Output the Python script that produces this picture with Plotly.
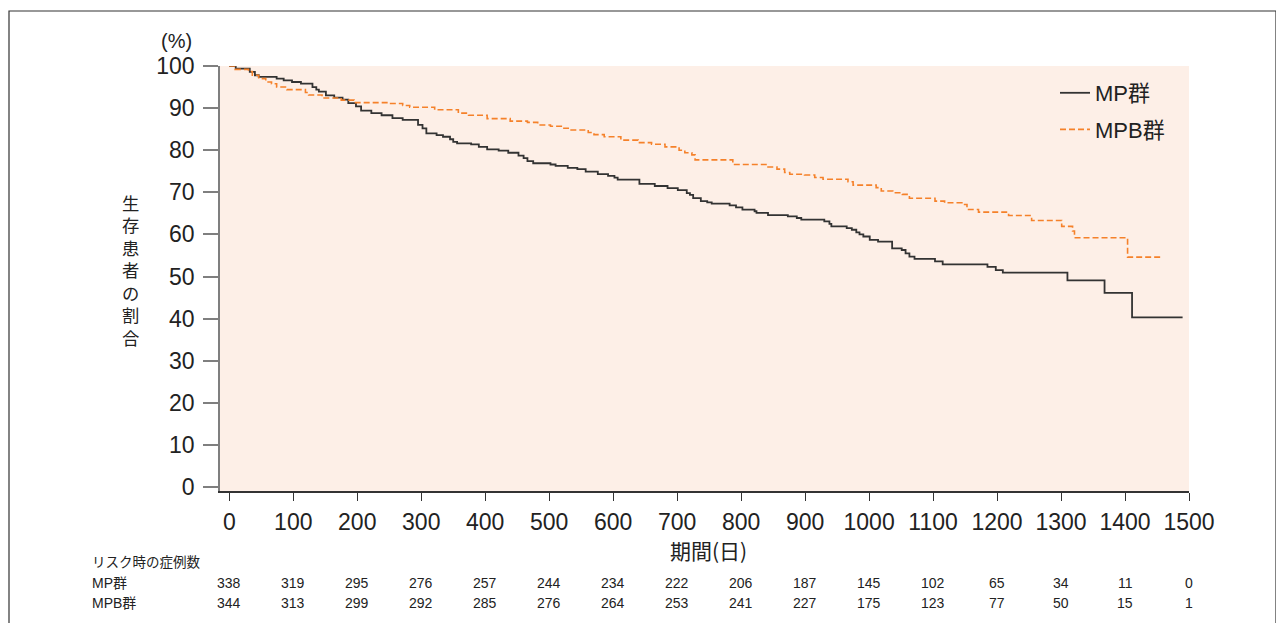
import plotly.graph_objects as go

# ---- data ----
mp_days = [0, 10, 32, 40, 46, 74, 85, 98, 112, 130, 136, 140, 151, 164, 177, 186, 198, 206, 222, 238,
           255, 271, 295, 302, 308, 324, 334, 345, 350, 356, 378, 390, 403, 421, 436, 452, 460, 466, 475,
           502, 510, 529, 544, 557, 576, 592, 602, 607, 641, 665, 685, 701, 715, 720, 725, 737, 747, 754,
           782, 792, 802, 821, 824, 842, 873, 887, 894, 930, 938, 941, 965, 973, 980, 985, 991, 1001,
           1014, 1036, 1051, 1057, 1063, 1071, 1103, 1115, 1185, 1198, 1209, 1310, 1368, 1411, 1490]
mp_surv = [100, 99.4, 98.6, 97.8, 97.4, 97.0, 96.6, 96.2, 95.8, 95.0, 94.4, 93.9, 93.0, 92.5, 92.0, 91.2,
           90.4, 89.4, 88.8, 88.3, 87.6, 87.2, 86.0, 85.2, 84.0, 83.6, 83.2, 82.6, 82.0, 81.6, 81.4, 80.8,
           80.2, 79.9, 79.4, 78.7, 78.1, 77.4, 76.9, 76.6, 76.3, 75.8, 75.5, 74.9, 74.3, 73.9, 73.5, 73.0,
           72.0, 71.5, 71.0, 70.5, 69.8, 69.4, 68.6, 67.9, 67.6, 67.3, 66.9, 66.4, 65.9, 65.5, 65.1, 64.6,
           64.3, 63.9, 63.5, 63.1, 62.5, 61.9, 61.5, 61.1, 60.5, 60.0, 59.5, 58.7, 58.3, 56.7, 56.3, 55.5,
           54.7, 54.2, 53.6, 52.9, 52.3, 51.5, 50.9, 49.1, 46.1, 40.3, 40.3]

mpb_days = [0, 9, 30, 36, 46, 57, 66, 74, 90, 119, 124, 145, 175, 195, 250, 271, 282, 321, 358, 374, 403,
            439, 466, 482, 502, 523, 531, 561, 570, 586, 612, 639, 660, 681, 703, 712, 723, 728, 787, 842,
            856, 868, 876, 899, 915, 928, 967, 975, 1011, 1019, 1037, 1052, 1063, 1103, 1118, 1145, 1153,
            1171, 1218, 1254, 1301, 1318, 1321, 1404, 1457]
mpb_surv = [100, 99.2, 98.7, 97.8, 97.0, 96.2, 95.8, 95.0, 94.4, 93.7, 93.1, 92.4, 91.9, 91.3, 91.1, 90.6,
            90.2, 89.6, 88.8, 88.3, 87.5, 86.9, 86.6, 86.0, 85.7, 85.2, 84.8, 84.2, 83.7, 83.2, 82.4, 81.8,
            81.4, 80.8, 80.0, 79.4, 78.9, 77.7, 76.6, 76.0, 75.5, 74.7, 74.3, 74.1, 73.5, 73.1, 72.5, 71.7,
            71.1, 70.3, 69.9, 69.5, 68.6, 67.9, 67.5, 67.1, 65.9, 65.3, 64.5, 63.3, 61.9, 60.8, 59.2, 54.6,
            54.6]

x_ticks = list(range(0, 1501, 100))
y_ticks = list(range(0, 101, 10))
risk_mp = [338, 319, 295, 276, 257, 244, 234, 222, 206, 187, 145, 102, 65, 34, 11, 0]
risk_mpb = [344, 313, 299, 292, 285, 276, 264, 253, 241, 227, 175, 123, 77, 50, 15, 1]

series_names = ["MP群", "MPB群"]
risk_title = "リスク時の症例数"
x_title = "期間(日)"
y_title = "生存患者の割合"
y_unit = "(%)"

# ---- layout constants (page pixels; the page body adds an 8px offset) ----
OFF = 8
W, H = 1284 - OFF, 623 - OFF
PL, PR, PT, PB = 220, 1189, 66, 491          # plot area in page pixels
PW, PH = PR - PL, PB - PT


def px(xp):
    return (xp - PL) / PW


def py(yp):
    return (PB - yp) / PH


FONT = "Liberation Sans, Arial, Helvetica, Noto Sans CJK JP, sans-serif"
JFONT = "Noto Sans CJK JP, Liberation Sans, sans-serif"
TXT = "#222222"

fig = go.Figure()
fig.add_trace(go.Scatter(x=mp_days, y=mp_surv, mode="lines", line_shape="hv", name=series_names[0],
                         legendgroup="a",
                         line=dict(color="#333333", width=1.8)))
fig.add_trace(go.Scatter(x=mpb_days, y=mpb_surv, mode="lines", line_shape="hv", name=series_names[1],
                         legendgroup="b",
                         line=dict(color="#F5812A", width=1.6, dash="6px,3px")))

annotations = []
# (%)
annotations.append(dict(text=y_unit, x=px(176), y=py(41), xref="paper", yref="paper", showarrow=False,
                        font=dict(family=FONT, size=20, color=TXT), xanchor="center", yanchor="middle"))
# vertical y title, upright characters stacked
annotations.append(dict(text="<br>".join(y_title), x=px(130), y=py(270), xref="paper", yref="paper",
                        showarrow=False, font=dict(family=JFONT, size=17.3, color=TXT),
                        xanchor="center", yanchor="middle"))
# x title
annotations.append(dict(text=x_title, x=px(708), y=py(550), xref="paper", yref="paper", showarrow=False,
                        font=dict(family=JFONT, size=21, color=TXT), xanchor="center", yanchor="middle"))
# risk table
annotations.append(dict(text=risk_title, x=px(90), y=py(561), xref="paper", yref="paper", showarrow=False,
                        font=dict(family=JFONT, size=13.5, color=TXT), xanchor="left", yanchor="middle"))
for name, vals, yy in [(series_names[0], risk_mp, 583), (series_names[1], risk_mpb, 603)]:
    annotations.append(dict(text=name, x=px(90), y=py(yy), xref="paper", yref="paper", showarrow=False,
                            font=dict(family=FONT, size=14, color=TXT), xanchor="left", yanchor="middle"))
    for t, v in zip(x_ticks, vals):
        annotations.append(dict(text=str(v), x=t, y=py(yy), xref="x", yref="paper", showarrow=False,
                                font=dict(family=FONT, size=14, color=TXT), xanchor="center",
                                yanchor="middle"))

shapes = [dict(type="rect", xref="paper", yref="paper", x0=px(9), x1=px(1276), y0=py(700), y1=py(11),
               line=dict(color="#333333", width=1.2), fillcolor="rgba(0,0,0,0)", layer="below")]

fig.update_layout(
    width=W, height=H,
    margin=dict(l=PL - OFF, r=(W + OFF) - PR, t=PT - OFF, b=(H + OFF) - PB, pad=0),
    paper_bgcolor="white",
    plot_bgcolor="#FDEFE7",
    font=dict(family=FONT, color=TXT),
    showlegend=True,
    legend=dict(x=px(1055), y=py(72), xanchor="left", yanchor="top", bgcolor="rgba(0,0,0,0)",
                font=dict(family=FONT, size=22, color=TXT), traceorder="grouped", tracegroupgap=5),
    annotations=annotations,
    shapes=shapes,
    xaxis=dict(range=[(PL - 229.3) / 0.64, 1500], tickvals=x_ticks, ticktext=[str(t) for t in x_ticks],
               showgrid=False, zeroline=False, showline=True, linecolor="#333333", linewidth=1.5,
               ticks="outside", ticklen=8, tickwidth=1.2, tickcolor="#333333",
               tickfont=dict(family=FONT, size=23, color=TXT), ticklabelstandoff=2, fixedrange=True),
    yaxis=dict(range=[100 - (PB - PT) / 4.21, 100], tickvals=y_ticks, ticktext=[str(t) for t in y_ticks],
               showgrid=False, zeroline=False, showline=True, linecolor="#7f7f7f", linewidth=1.8,
               ticks="outside", ticklen=15, tickwidth=1.8, tickcolor="#7f7f7f",
               tickfont=dict(family=FONT, size=23, color=TXT), ticklabelstandoff=4, fixedrange=True),
)

fig.write_html("out.html")
